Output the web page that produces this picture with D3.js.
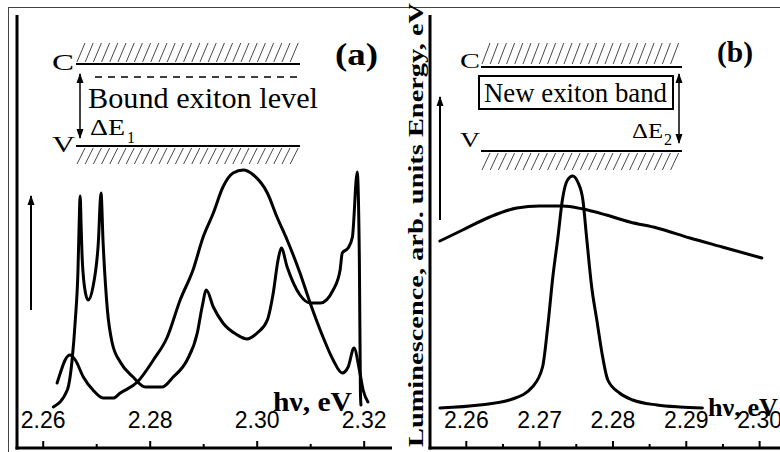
<!DOCTYPE html>
<html><head><meta charset="utf-8">
<script src="https://d3js.org/d3.v7.min.js"></script>
<style>html,body{margin:0;padding:0;background:#fff;}svg{display:block;}</style>
</head><body>
<script>
// ---------- DATA ----------
// Panel (a): curve with sharp peaks
const energyA1 = [2.2619,2.2645,2.2654,2.2660,2.2665,2.2667,2.2669,2.2671,2.2673,2.2679,2.2684,2.2693,2.2703,2.2708,2.2712,2.2720,2.2729,2.2744,2.2768,2.2791,2.2822,2.2843,2.2869,2.2888,2.2897,2.2905,2.2918,2.2936,2.2963,2.2981,2.3000,2.3019,2.3030,2.3039,2.3045,2.3056,2.3080,2.3099,2.3118,2.3142,2.3155,2.3159,2.3170,2.3178,2.3187,2.3191,2.3193,2.3194];
const intensA1 = [10.25,14.5,22,32,44.5,55,63,55,47,38.75,37,40.25,51.25,63.75,51.25,34.5,26.25,21.5,17.75,15.25,15.25,17.75,22,28.75,35.25,39.5,35.25,31.25,28.25,27.25,28.75,32,38.75,47,50,45.25,38.25,36.25,36.25,39.5,44.5,48.75,50,52.75,69,47,13.75,10.75];
// Panel (a): broad band curve
const energyA2 = [2.2626,2.2632,2.2641,2.2650,2.2660,2.2675,2.2693,2.2712,2.2731,2.2744,2.2776,2.2806,2.2832,2.2856,2.2880,2.2899,2.2918,2.2936,2.2955,2.2974,2.2993,2.3019,2.3037,2.3056,2.3080,2.3099,2.3123,2.3142,2.3159,2.3170,2.3181,2.3191,2.3198,2.3207];
const intensA2 = [16.25,18.75,22,23.25,22,17.75,14.5,12.5,12.5,13.75,16.5,22,27.75,37,44.5,52.75,58.75,65.25,68.75,69.5,68.25,63.75,57.75,52,43.75,36.25,27.75,22,18.75,20.25,25,19.5,14.5,11.5];
// Panel (b): broad flat curve
const energyB1 = [2.2564,2.2595,2.2632,2.2669,2.2700,2.2731,2.2759,2.2791,2.2823,2.2860,2.2905,2.2949,2.3003];
const intensB1 = [51.75,54.5,57.75,60,60.5,60.5,59.75,58.25,56.5,55,52.5,50.25,47.5];
// Panel (b): narrow exciton peak
const energyB2 = [2.2564,2.2618,2.2663,2.2690,2.2704,2.2711,2.2718,2.2725,2.2731,2.2738,2.2745,2.2752,2.2759,2.2764,2.2771,2.2778,2.2785,2.2793,2.2809,2.2827,2.2860,2.2891,2.2922];
const intensB2 = [10,10.75,12.25,15.25,20.25,30.25,42.75,52.75,62,67,68,66.5,62,52.75,40.25,32,23.75,17,13.75,12,10.75,10.25,10];
// Ticks
const majorTicksA = [2.26, 2.28, 2.30, 2.32];
const minorTicksA = [2.27, 2.29, 2.31];
const majorTicksB = [2.26, 2.27, 2.28, 2.29, 2.30];
const minorTicksB = [2.265, 2.275, 2.285, 2.295];
const tickLabelsA = ["2.26", "2.28", "2.30", "2.32"];
const tickLabelsB = ["2.26", "2.27", "2.28", "2.29", "2.30"];
const axisTitleX = "hν, eV";
const axisTitleY = "Luminescence, arb. units Energy, eV";

// ---------- SETUP ----------
const W = 780, H = 452;
const SERIF = "'Liberation Serif','Times New Roman','DejaVu Serif',serif";
const SANS = "'Liberation Sans',Arial,sans-serif";
const svg = d3.select("body").append("svg").attr("width", W).attr("height", H);

const axisY = 448;
const xA = d3.scaleLinear().domain([2.2551, 2.3252]).range([17, 392]);
const xB = d3.scaleLinear().domain([2.25505, 2.30278]).range([430, 780]);
const y = d3.scaleLinear().domain([0, 100]).range([axisY, 48]);

// outer thin frame
svg.append("rect").attr("x", 8.5).attr("y", 7.5).attr("width", 780).attr("height", 460)
  .attr("fill", "none").attr("stroke", "#444").attr("stroke-width", 1);

// arrow markers
const defs = svg.append("defs");
function marker(id, orient) {
  defs.append("marker").attr("id", id).attr("viewBox", "0 0 10 10")
    .attr("refX", 9).attr("refY", 5).attr("markerWidth", 10).attr("markerHeight", 10)
    .attr("markerUnits", "userSpaceOnUse").attr("orient", orient)
    .append("path").attr("d", "M0,1.5 L10,5 L0,8.5 Z").attr("fill", "#000");
}
marker("arr", "auto");
marker("arrS", "auto-start-reverse");

// ---------- AXES ----------
function drawAxis(x, x0, x1, majors, minors, labels) {
  const g = svg.append("g");
  g.append("line").attr("x1", x0).attr("x2", x0).attr("y1", 15).attr("y2", axisY + 1.5)
    .attr("stroke", "#000").attr("stroke-width", 3);
  g.append("line").attr("x1", x0 - 1.5).attr("x2", x1).attr("y1", axisY).attr("y2", axisY)
    .attr("stroke", "#000").attr("stroke-width", 3);
  g.selectAll(".maj").data(majors).join("line")
    .attr("x1", d => x(d)).attr("x2", d => x(d)).attr("y1", axisY).attr("y2", axisY - 7)
    .attr("stroke", "#000").attr("stroke-width", 2);
  g.selectAll(".min").data(minors).join("line")
    .attr("x1", d => x(d)).attr("x2", d => x(d)).attr("y1", axisY).attr("y2", axisY - 4)
    .attr("stroke", "#000").attr("stroke-width", 2);
  g.selectAll("text").data(majors).join("text")
    .attr("x", d => x(d)).attr("y", 428).attr("text-anchor", "middle")
    .attr("font-family", SANS).attr("font-size", 23)
    .text((d, i) => labels[i]);
}
drawAxis(xA, 17, 392, majorTicksA, minorTicksA, tickLabelsA);
drawAxis(xB, 430, 782, majorTicksB, minorTicksB, tickLabelsB);

// ---------- CURVES ----------
function curve(x, es, is) {
  const line = d3.line().x(d => x(d[0])).y(d => y(d[1])).curve(d3.curveMonotoneX);
  svg.append("path").datum(es.map((e, i) => [e, is[i]])).attr("d", line)
    .attr("fill", "none").attr("stroke", "#000").attr("stroke-width", 3)
    .attr("stroke-linejoin", "round").attr("stroke-linecap", "round");
}
curve(xA, energyA1, intensA1);
curve(xA, energyA2, intensA2);
curve(xB, energyB1, intensB1);
curve(xB, energyB2, intensB2);

// ---------- SCHEMATICS ----------
function hatch(x0, x1, yb, yt) {
  const dx = 8, step = 8.2;
  svg.append("g").selectAll("line").data(d3.range(x0, x1 - dx + 0.1, step)).join("line")
    .attr("x1", d => d).attr("y1", yb).attr("x2", d => d + dx).attr("y2", yt)
    .attr("stroke", "#333").attr("stroke-width", 0.9);
}
function hline(x0, x1, yy, w) {
  svg.append("line").attr("x1", x0).attr("x2", x1).attr("y1", yy).attr("y2", yy)
    .attr("stroke", "#000").attr("stroke-width", w || 2);
}
function darrow(xx, y0, y1) {
  svg.append("line").attr("x1", xx).attr("x2", xx).attr("y1", y0).attr("y2", y1)
    .attr("stroke", "#000").attr("stroke-width", 1.5)
    .attr("marker-start", "url(#arrS)").attr("marker-end", "url(#arr)");
}
function txt(x, yy, s, size, weight, len) {
  const t = svg.append("text").attr("x", x).attr("y", yy).attr("font-size", size)
    .attr("font-family", SERIF).attr("font-weight", weight || "normal").text(s);
  if (len) t.attr("textLength", len).attr("lengthAdjust", "spacingAndGlyphs");
  return t;
}

// panel (a)
hatch(77, 300, 62, 43);
hline(76, 300, 64);
svg.append("line").attr("x1", 95).attr("x2", 299).attr("y1", 77).attr("y2", 77)
  .attr("stroke", "#000").attr("stroke-width", 1.5).attr("stroke-dasharray", "7,6");
hline(76, 300, 146);
hatch(77, 300, 164, 148);
darrow(80, 74, 138);
txt(52, 70, "C", 23, null, 22);
txt(52, 152, "V", 23, null, 23);
txt(88, 108, "Bound exiton level", 29, null, 230);
txt(90, 135, "ΔE", 23, null, 35);
txt(127, 143, "1", 16);
txt(335, 65, "(a)", 32, "bold", 43);
svg.append("line").attr("x1", 31).attr("x2", 31).attr("y1", 310).attr("y2", 196)
  .attr("stroke", "#000").attr("stroke-width", 2).attr("marker-end", "url(#arr)");
txt(273, 411, axisTitleX, 27, "bold", 79);

// panel (b)
hatch(482, 682, 64, 43);
hline(481, 682, 67);
hline(481, 682, 151);
hatch(482, 682, 170, 153);
svg.append("rect").attr("x", 479).attr("y", 76).attr("width", 194).attr("height", 33)
  .attr("fill", "none").attr("stroke", "#000").attr("stroke-width", 2);
txt(484, 102, "New exiton band", 27, null, 183);
darrow(679, 74, 143);
txt(460, 68, "C", 22, null, 20);
txt(460, 147, "V", 22, null, 20);
txt(632, 138, "ΔE", 22, null, 31);
txt(664, 145, "2", 16);
txt(717, 62, "(b)", 29, "bold", 36);
svg.append("line").attr("x1", 440).attr("x2", 440).attr("y1", 220).attr("y2", 97)
  .attr("stroke", "#000").attr("stroke-width", 2).attr("marker-end", "url(#arr)");
txt(708, 416, axisTitleX, 25, "bold", 70);

// rotated y title
svg.append("text").attr("transform", "translate(423,225) rotate(-90)")
  .attr("text-anchor", "middle").attr("font-size", 21).attr("font-weight", "bold")
  .attr("font-family", SERIF)
  .attr("textLength", 444).attr("lengthAdjust", "spacingAndGlyphs")
  .text(axisTitleY);
</script>
</body></html>
